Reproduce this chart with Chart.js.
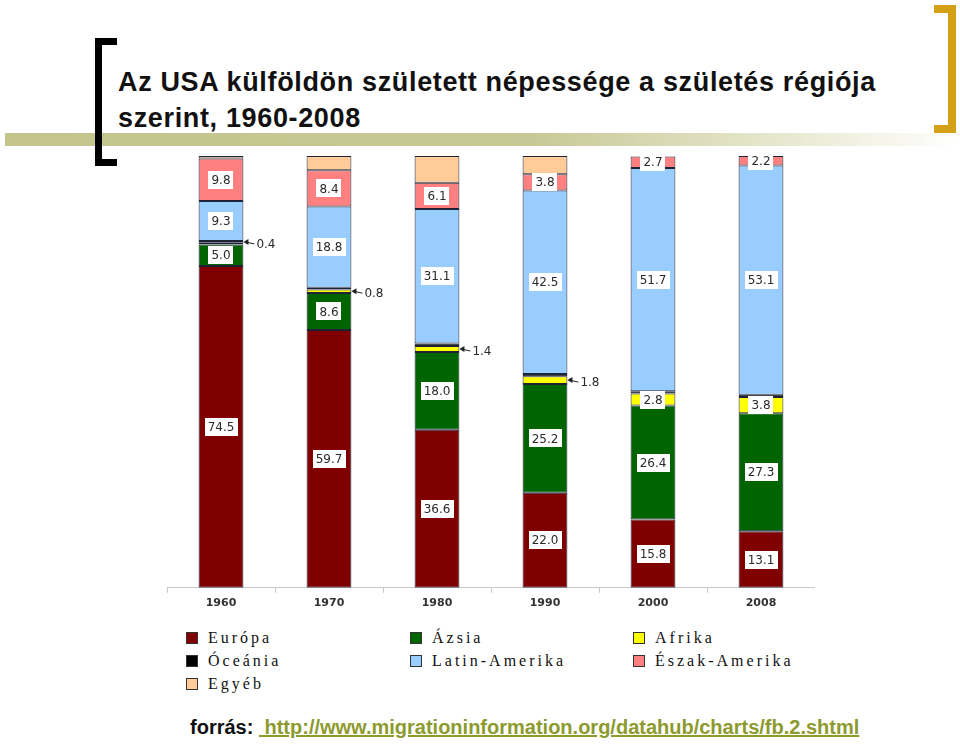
<!DOCTYPE html>
<html>
<head>
<meta charset="utf-8">
<script src="https://cdn.jsdelivr.net/npm/chart.js@4.4.1/dist/chart.umd.min.js"></script>
<style>
  body { margin: 0; width: 960px; height: 746px; background: #fff; position: relative; overflow: hidden; font-family: "Liberation Sans", Arial, sans-serif; }
  .abs { position: absolute; }
  #band { left: 5px; top: 133px; width: 955px; height: 13px; background: linear-gradient(to right, #c4c48c 0%, #c8c896 55%, #e6e6cc 80%, #ffffff 100%); }
  .lb { background: #000; }
  .rb { background: #d4a015; }
  #title { left: 118px; top: 64px; font-weight: bold; font-size: 27px; line-height: 36px; color: #111; letter-spacing: 0.65px; white-space: nowrap; }
  #chartBox { left: 167px; top: 150px; }
  #legend { left: 186px; top: 626px; display: grid; grid-template-columns: 224px 223px 200px; grid-auto-rows: 23px; }
  .item { display: flex; align-items: center; font-family: "Liberation Serif", "Times New Roman", serif; font-size: 16px; letter-spacing: 3px; color: #111; }
  .sw { width: 10px; height: 10px; border: 1px solid #333; margin-right: 10px; flex: none; }
  #source { left: 190px; top: 716px; font-weight: bold; font-size: 20px; white-space: nowrap; color: #111; }
  #source a { color: #8c9a2e; text-decoration: underline; }
</style>
</head>
<body>
<div id="band" class="abs"></div>
<!-- left bracket -->
<div class="abs lb" style="left:95px;top:38px;width:7px;height:128px"></div>
<div class="abs lb" style="left:95px;top:38px;width:22px;height:7px"></div>
<div class="abs lb" style="left:95px;top:159px;width:22px;height:7px"></div>
<!-- right bracket -->
<div class="abs rb" style="left:948px;top:5px;width:8px;height:128px"></div>
<div class="abs rb" style="left:934px;top:5px;width:22px;height:8px"></div>
<div class="abs rb" style="left:934px;top:125px;width:22px;height:8px"></div>

<div id="title" class="abs">Az USA külföldön született népessége a születés régiója<br>szerint, 1960-2008</div>

<div id="chartBox" class="abs"><canvas id="fbChart" width="648" height="464"></canvas></div>

<div id="legend" class="abs"></div>

<div id="source" class="abs">forrás: <a>&nbsp;http://www.migrationinformation.org/datahub/charts/fb.2.shtml</a></div>

<script>
// share of foreign-born population by region of birth, percent
const years = ['1960', '1970', '1980', '1990', '2000', '2008'];
const europe = [74.5, 59.7, 36.6, 22.0, 15.8, 13.1];
const asia = [5.0, 8.6, 18.0, 25.2, 26.4, 27.3];
const africa = [0.4, 0.8, 1.4, 1.8, 2.8, 3.8];
const oceania = [0.4, 0.4, 0.6, 0.5, 0.5, 0.5];
const latinAmerica = [9.3, 18.8, 31.1, 42.5, 51.7, 53.1];
const northAmerica = [9.8, 8.4, 6.1, 3.8, 2.7, 2.2];
const other = [0.6, 3.3, 6.2, 4.2, 0, 0];

const seriesNames = ['Európa', 'Ázsia', 'Afrika', 'Óceánia', 'Latin-Amerika', 'Észak-Amerika', 'Egyéb'];
const seriesValues = [europe, asia, africa, oceania, latinAmerica, northAmerica, other];
const seriesColors = ['#800000', '#006400', '#ffff00', '#000000', '#99ccff', '#ff8080', '#ffcc99'];
// small values labelled outside the bar with an arrow (one per year)
const calloutSeries = ['Óceánia', 'Afrika', 'Afrika', 'Afrika', null, null];

const labelFont = '12px "DejaVu Sans", Verdana, sans-serif';

const segmentLabels = {
  id: 'segmentLabels',
  afterDatasetsDraw(chart) {
    const ctx = chart.ctx;
    ctx.save();
    ctx.font = labelFont;
    ctx.textBaseline = 'middle';

    chart.data.datasets.forEach((ds, i) => {
      if (ds.label === 'Egyéb') return;
      chart.getDatasetMeta(i).data.forEach((bar, j) => {
        const v = ds.data[j];
        if (v < 2) return;
        const txt = v.toFixed(1);
        const cy = (bar.y + bar.base) / 2;
        const w = ctx.measureText(txt).width + 6;
        ctx.fillStyle = '#fff';
        ctx.fillRect(Math.round(bar.x - w / 2), Math.round(cy - 9), Math.round(w), 18);
        ctx.fillStyle = '#2a2a2a';
        ctx.textAlign = 'center';
        ctx.fillText(txt, bar.x, cy + 1);
      });
    });

    calloutSeries.forEach((name, j) => {
      if (!name) return;
      const i = seriesNames.indexOf(name);
      const bar = chart.getDatasetMeta(i).data[j];
      const ty = (bar.y + bar.base) / 2;
      const x0 = bar.x + bar.width / 2;
      ctx.strokeStyle = '#222';
      ctx.fillStyle = '#222';
      ctx.lineWidth = 1;
      ctx.beginPath();
      ctx.moveTo(x0 + 2, ty);
      ctx.lineTo(x0 + 11, ty + 2);
      ctx.stroke();
      ctx.beginPath();
      ctx.moveTo(x0, ty);
      ctx.lineTo(x0 + 5, ty - 3);
      ctx.lineTo(x0 + 5, ty + 3);
      ctx.closePath();
      ctx.fill();
      ctx.fillStyle = '#2a2a2a';
      ctx.textAlign = 'left';
      ctx.fillText(chart.data.datasets[i].data[j].toFixed(1), x0 + 13, ty + 3);
    });
    ctx.restore();
  }
};

new Chart(document.getElementById('fbChart'), {
  type: 'bar',
  data: {
    labels: years,
    datasets: seriesNames.map((name, i) => ({
      label: name,
      data: seriesValues[i],
      backgroundColor: seriesColors[i],
      borderColor: '#1c2436',
      borderWidth: 1,
      borderSkipped: false,
      barPercentage: 0.415,
      categoryPercentage: 1
    }))
  },
  options: {
    responsive: false,
    devicePixelRatio: 1,
    animation: false,
    layout: { padding: { top: 6, left: 0, right: 0, bottom: 0 } },
    plugins: { legend: { display: false }, tooltip: { enabled: false } },
    scales: {
      x: {
        stacked: true,
        grid: { drawOnChartArea: false, drawTicks: true, tickLength: 5, color: '#c8c8c8' },
        border: { color: '#c8c8c8' },
        ticks: { color: '#333', padding: 4, font: { family: '"DejaVu Sans", Verdana, sans-serif', size: 11, weight: 'bold' } }
      },
      y: { stacked: true, min: 0, max: 100, display: false }
    }
  },
  plugins: [segmentLabels]
});

// legend, three columns, same order as the series
const legend = document.getElementById('legend');
seriesNames.forEach((name, i) => {
  const item = document.createElement('div');
  item.className = 'item';
  const sw = document.createElement('span');
  sw.className = 'sw';
  sw.style.background = seriesColors[i];
  item.appendChild(sw);
  item.appendChild(document.createTextNode(name));
  legend.appendChild(item);
});
</script>
</body>
</html>
